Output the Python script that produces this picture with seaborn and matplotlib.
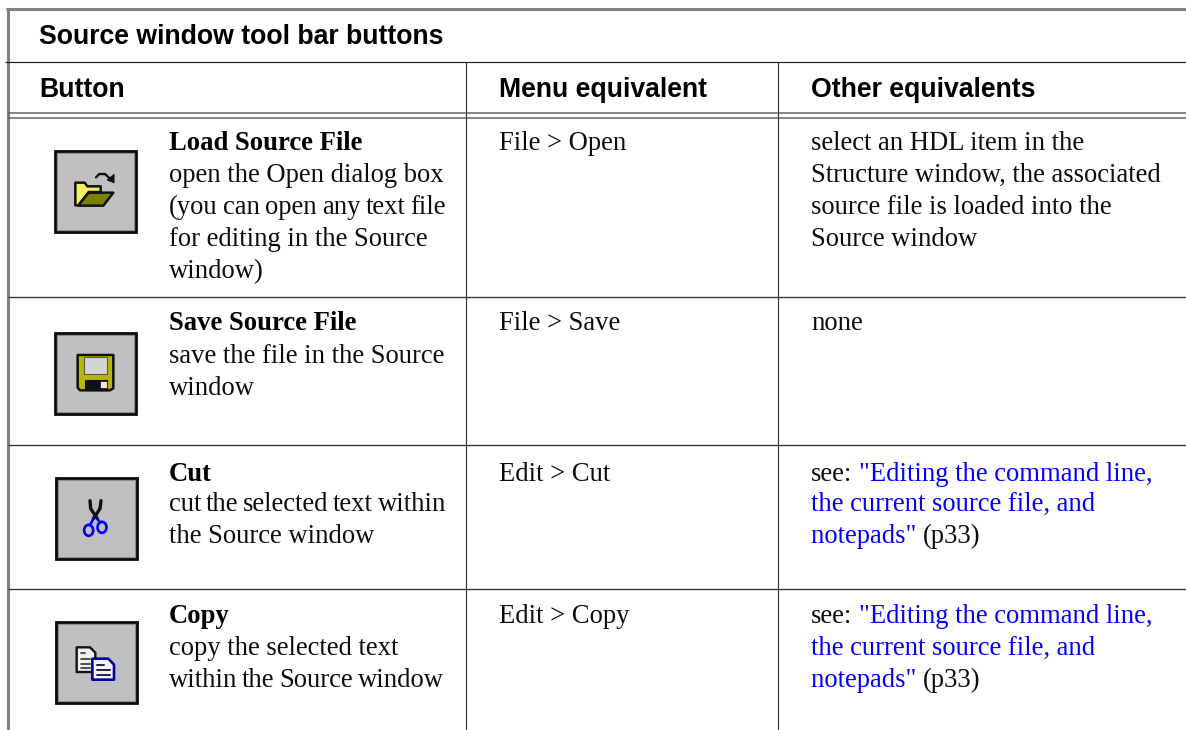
import matplotlib
matplotlib.use("Agg")
import matplotlib.pyplot as plt
import seaborn as sns
from matplotlib.patches import Polygon, Rectangle, Ellipse

sns.set_theme(style="white")
plt.rcParams['font.family'] = ['Liberation Serif', 'DejaVu Sans']

TITLE = "Source window tool bar buttons"
COLUMNS = ["Button", "Menu equivalent", "Other equivalents"]
BUTTON_NAMES = ["Load Source File", "Save Source File", "Cut", "Copy"]
BUTTON_DESCS = [
    ["open the Open dialog box", "(you can open any text file", "for editing in the Source", "window)"],
    ["save the file in the Source", "window"],
    ["cut the selected text within", "the Source window"],
    ["copy the selected text", "within the Source window"],
]
MENU_EQUIV = ["File > Open", "File > Save", "Edit > Cut", "Edit > Copy"]
LINK_LINES = ['"Editing the command line,', 'the current source file, and', 'notepads"']
OTHER_PLAIN = [
    ["select an HDL item in the", "Structure window, the associated", "source file is loaded into the", "Source window"],
    ["none"],
]

W, H = 1186, 730
ROW_LINES_Y = [
    [150, 182, 214, 246, 278],
    [330, 363, 395],
    [481, 511, 543],
    [623, 655, 687],
]
COL_X = [169, 499, 811]
ICON_BOX = [(54, 150), (54, 332), (55, 477), (55, 621)]
TIGHT_RIGHT = {"(you can open any text file": 446, "cut the selected text within": 446,
               "within the Source window": 444}
BODY = 19.15
HEAD = 19.15
BLUE = "#0000ff"
INK = "#0c0c0c"

fig = plt.figure(figsize=(W / 100, H / 100), dpi=100, facecolor="white")
ax = fig.add_axes([0, 0, 1, 1])
ax.set_xlim(0, W)
ax.set_ylim(H, 0)
ax.axis("off")
rend = fig.canvas.get_renderer()


def rule(x0, x1, y0, y1, c="#333333", lw=1.0):
    ax.plot([x0, x1], [y0, y1], color=c, lw=lw, solid_capstyle="butt")


# frame and rules
rule(6, W, 9, 9, "#808080", 2.2)
rule(7.5, 7.5, 8, H, "#808080", 2.2)
rule(5, W, 62, 62, "#1a1a1a", 0.85)
rule(8, W, 113, 113, "#666666", 1.1)
rule(8, W, 118, 118, "#666666", 1.1)
for x in (466, 778):
    rule(x, x, 62, H, "#333333", 0.85)
for y in (297, 445, 589):
    rule(8, W, y, y, "#333333", 0.95)

# headers
ax.text(39, 44, TITLE, family="Liberation Sans", weight="bold", fontsize=HEAD, color="#000000", va="baseline")
for x, t in zip((39, 499, 811), COLUMNS):
    ax.text(x, 97, t, family="Liberation Sans", weight="bold", fontsize=HEAD, color="#000000", va="baseline")


# body
def chain(x, y, parts):
    for txt, col in parts:
        t = ax.text(x, y, txt, fontsize=BODY, color=col, va="baseline")
        bb = t.get_window_extent(rend)
        x = x + bb.width + (6.5 if txt.endswith(":") else 0)


def fitted(x, y, line, right):
    words = line.split(" ")
    items = [ax.text(x, y, w, fontsize=BODY, color=INK, va="baseline") for w in words]
    widths = [t.get_window_extent(rend).width for t in items]
    gap = (right - x - sum(widths)) / (len(words) - 1)
    cur = x
    for t, w in zip(items, widths):
        t.set_x(cur)
        cur += w + gap


for i, name in enumerate(BUTTON_NAMES):
    ys = ROW_LINES_Y[i]
    ax.text(COL_X[0], ys[0], name, fontsize=BODY, weight="bold", color="#000000", va="baseline")
    for line, y in zip(BUTTON_DESCS[i], ys[1:]):
        if line in TIGHT_RIGHT:
            fitted(COL_X[0], y, line, TIGHT_RIGHT[line])
        else:
            ax.text(COL_X[0], y, line, fontsize=BODY, color=INK, va="baseline")
    ax.text(COL_X[1], ys[0], MENU_EQUIV[i], fontsize=BODY, color=INK, va="baseline")
    if i < 2:
        other_ys = [ys[0] + 32 * j for j in range(len(OTHER_PLAIN[i]))]
        for line, y in zip(OTHER_PLAIN[i], other_ys):
            ax.text(COL_X[2], y, line, fontsize=BODY, color=INK, va="baseline")
    else:
        chain(COL_X[2], ys[0], [("see:", INK), (LINK_LINES[0], BLUE)])
        ax.text(COL_X[2], ys[1], LINK_LINES[1], fontsize=BODY, color=BLUE, va="baseline")
        chain(COL_X[2], ys[2], [(LINK_LINES[2] + " ", BLUE), ("(p33)", INK)])


# icons
def box(x0, y0, w=83, h=83):
    ax.add_patch(Rectangle((x0 + 1, y0 + 1), w - 2, h - 2, fc="#c0c0c0", ec="#0a0a0a", lw=2.0))
    ax.add_patch(Rectangle((x0 + 2.8, y0 + 2.8), w - 5.6, h - 5.6, fc="none", ec="#8a8a8a", lw=0.7))


def poly(org, pts, fc, ec="#111111", lw=1.4, z=3):
    ax.add_patch(Polygon([(org[0] + a / 3, org[1] + b / 3) for a, b in pts], closed=True,
                         fc=fc, ec=ec, lw=lw, zorder=z, joinstyle="round"))


def seg(org, pts, c="#111111", lw=1.6, z=4):
    ax.plot([org[0] + a / 3 for a, _ in pts], [org[1] + b / 3 for _, b in pts], color=c, lw=lw,
            zorder=z, solid_capstyle="round", solid_joinstyle="round")


for b in ICON_BOX:
    box(*b)

# folder
o = (40, 140)
poly(o, [(106, 196), (106, 128), (134, 128), (142, 139), (182, 139), (182, 156), (146, 156), (116, 196)], "#f5f060", lw=1.8)
poly(o, [(114, 197), (146, 158), (220, 158), (190, 197)], "#808000", lw=1.8)
seg(o, [(168, 112), (178, 102), (195, 102), (210, 116)], lw=1.7)
poly(o, [(222, 104), (222, 128), (202, 120)], "#111111", lw=0.8)

# floppy
o = (40, 325)
poly(o, [(113, 90), (220, 90), (220, 190), (210, 196), (120, 196), (113, 188)], "#b8b800", lw=1.8)
poly(o, [(132, 95), (201, 95), (201, 146), (132, 146)], "#d4d4d4", ec="#555555", lw=0.8)
poly(o, [(135, 165), (202, 165), (202, 196), (135, 196)], "#111111", lw=0.8)
poly(o, [(182, 170), (200, 170), (200, 190), (182, 190)], "#e8e8e8", ec="#e8e8e8", lw=0.2)

# scissors
o = (40, 470)
seg(o, [(150, 92), (152, 116), (172, 146)], lw=2.4)
seg(o, [(183, 92), (180, 116), (160, 146)], lw=2.4)
seg(o, [(160, 146), (150, 166)], c=BLUE, lw=1.9)
seg(o, [(172, 146), (180, 158)], c=BLUE, lw=1.9)
ax.add_patch(Ellipse((40 + 146 / 3, 470 + 181 / 3), 9, 11, fc="none", ec=BLUE, lw=1.9, zorder=4))
ax.add_patch(Ellipse((40 + 186 / 3, 470 + 172 / 3), 9, 11, fc="none", ec=BLUE, lw=1.9, zorder=4))

# copy
o = (40, 612)
poly(o, [(110, 106), (150, 106), (166, 122), (166, 180), (110, 180)], "#f0f0f0", lw=1.7)
for yy, xe in ((122, 136), (142, 150), (156, 150), (168, 150)):
    seg(o, [(122, yy), (xe, yy)], c="#333333", lw=1.2)
poly(o, [(157, 140), (205, 140), (222, 158), (222, 203), (157, 203)], "#f4f4f4", ec="#0000a0", lw=1.9, z=5)
for yy, xe in ((158, 192), (174, 210), (188, 210)):
    seg(o, [(170, yy), (xe, yy)], c="#222244", lw=1.4, z=6)

fig.savefig("out.png", dpi=100, facecolor="white")
